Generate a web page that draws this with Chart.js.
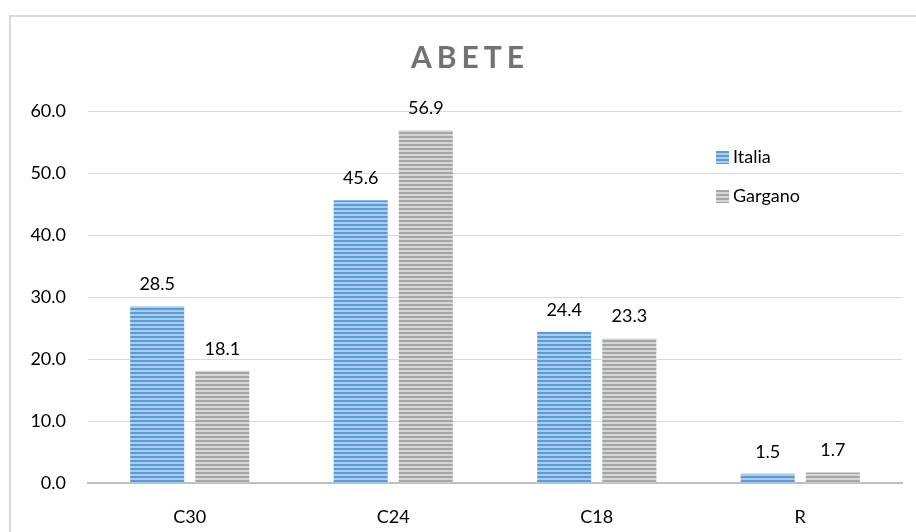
<!DOCTYPE html>
<html>
<head>
<meta charset="utf-8">
<script src="https://cdn.jsdelivr.net/npm/chart.js@4"></script>
<style>
  body { margin: 0; background: #fff; }
  #wrap { position: relative; width: 916px; height: 532px; overflow: hidden; }
  #frame { position: absolute; left: 9px; top: 15px; width: 920px; height: 540px; border: 2px solid #d9d9d9; box-sizing: border-box; }
  #title { position: absolute; left: 0; width: 916px; top: 38px; text-align: center; font-family: Lato, sans-serif; font-weight: bold; font-size: 30px; letter-spacing: 5px; color: #757171; padding-left: 24px; box-sizing: border-box; }
  .leg { position: absolute; left: 716px; font-family: Lato, sans-serif; font-size: 18px; color: #000; }
  .leg span { display: inline-block; width: 13px; height: 13px; margin-right: 4px; vertical-align: -1px; }
  canvas { position: absolute; left: 0; top: 0; }
</style>
</head>
<body>
<div id="wrap">
  <div id="frame"></div>
  <canvas id="myChart" width="916" height="532"></canvas>
  <div id="title">ABETE</div>
  <div class="leg" style="top:145px"><span style="background:repeating-linear-gradient(#5b9bd5 0 2px,#a9cdee 2px 4px)"></span>Italia</div>
  <div class="leg" style="top:184px"><span style="background:repeating-linear-gradient(#a5a5a5 0 2px,#d6d6d6 2px 4px)"></span>Gargano</div>
</div>
<script>
// data
const categories = ["C30", "C24", "C18", "R"];
const italia = [28.5, 45.6, 24.4, 1.5];
const gargano = [18.1, 56.9, 23.3, 1.7];
const yTicks = [0, 10, 20, 30, 40, 50, 60];

// striped fill
function stripes(dark, light) {
  const c = document.createElement("canvas");
  c.width = 4; c.height = 4;
  const g = c.getContext("2d");
  g.fillStyle = light; g.fillRect(0, 0, 4, 4);
  g.fillStyle = dark; g.fillRect(0, 0, 4, 2);
  return g.createPattern(c, "repeat");
}

// value labels above bars
const valueLabels = {
  id: "valueLabels",
  afterDatasetsDraw(chart) {
    const ctx = chart.ctx;
    ctx.save();
    ctx.font = "18px Lato, sans-serif";
    ctx.fillStyle = "#000";
    ctx.textAlign = "center";
    ctx.textBaseline = "bottom";
    chart.data.datasets.forEach(function (ds, i) {
      chart.getDatasetMeta(i).data.forEach(function (bar, j) {
        ctx.fillText(ds.data[j].toFixed(1), bar.x, bar.y - 13);
      });
    });
    ctx.restore();
  }
};

var ctx = document.getElementById("myChart").getContext("2d");
var myChart = new Chart(ctx, {
  type: "bar",
  data: {
    labels: categories,
    datasets: [
      { label: "Italia", data: italia, backgroundColor: stripes("#5b9bd5", "#a9cdee") },
      { label: "Gargano", data: gargano, backgroundColor: stripes("#a5a5a5", "#d6d6d6") },
    ],
  },
  options: {
    responsive: false,
    animation: false,
    layout: { padding: { top: 111, right: 14, left: 0, bottom: 0 } },
    categoryPercentage: 0.64,
    barPercentage: 0.83,
    plugins: { legend: { display: false }, tooltip: { enabled: false } },
    scales: {
      x: {
        grid: { display: false, drawTicks: false },
        border: { color: "#bfbfbf", width: 2 },
        ticks: { font: { family: "Lato", size: 18 }, color: "#000", padding: 23 },
        afterFit: function (s) { s.height = 49; },
      },
      y: {
        min: 0, max: 60,
        afterBuildTicks: function (s) { s.ticks = yTicks.map(function (v) { return { value: v }; }); },
        grid: { color: "#d9d9d9", drawTicks: false },
        border: { display: false },
        ticks: {
          font: { family: "Lato", size: 18 }, color: "#000", padding: 22,
          callback: function (v) { return v.toFixed(1); },
        },
        afterFit: function (s) { s.width = 88; },
      },
    },
  },
  plugins: [valueLabels],
});
</script>
</body>
</html>
